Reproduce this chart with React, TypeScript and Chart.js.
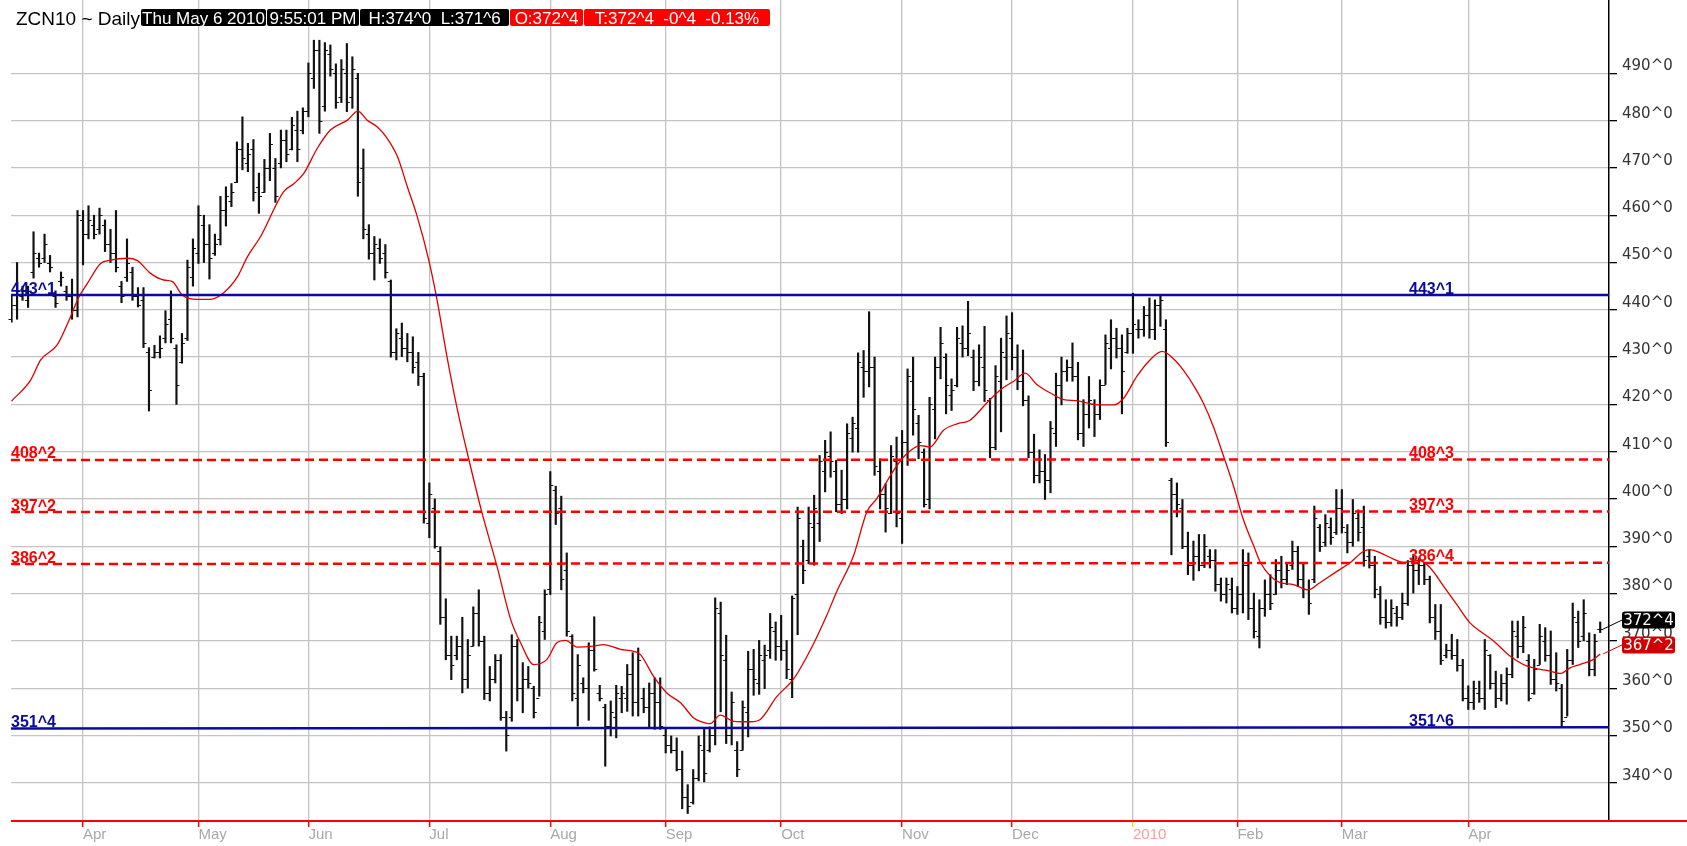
import React, { useEffect, useRef } from 'react';
import { Chart, registerables } from 'chart.js';

Chart.register(...registerables);

// ---------- data ----------
const highs = [
  443, 450, 445, 445, 456.5, 452, 456, 451.5, 444, 448,
  445, 446.5, 461, 461, 462, 460, 461.5, 459, 457, 461,
  446, 455, 449, 444.7, 444.7, 432, 432.5, 434.5, 439.8, 444,
  432.6, 435, 450.5, 455, 462, 460, 458, 456, 464, 466,
  466.7, 475.5, 480.8, 475.2, 476, 468.9, 471.8, 477.3, 472, 478,
  478, 480.7, 482, 482.7, 492.2, 497, 497, 496.5, 496, 492,
  492.9, 496.3, 493.5, 490, 474, 458, 455.5, 455, 453.8, 446.3,
  436, 437.2, 435, 434.3, 431, 426.6, 403.4, 400, 389.9, 378.9,
  371, 371, 375, 370.3, 377.2, 380.8, 371, 364.6, 367.1, 367.1,
  355.1, 371.3, 370.3, 365.4, 364.6, 360.4, 375.2, 380.8, 405.8, 402.7,
  400.6, 388.6, 371.3, 367.1, 362.2, 369.6, 375.1, 360.6, 356.6, 357.3,
  360.6, 360.4, 365, 367.5, 368.5, 360, 361.1, 362.2, 362.2, 351.3,
  349.9, 349.5, 346.7, 339.6, 342.8, 349.9, 351.5, 351.8, 379.1, 378.2,
  371.2, 359.2, 348.7, 357.3, 367.8, 368.2, 370.1, 369.1, 375.8, 374,
  375.4, 370.1, 379.5, 398.3, 391.3, 398.3, 400.8, 409.2, 412.4, 414.2,
  408.2, 406.1, 415.9, 417.3, 430.9, 431.4, 439.6, 430, 408.5, 403.2,
  411.3, 413.1, 414.5, 427.5, 430, 417.7, 410.6, 421.5, 430, 436.3,
  430.7, 425.4, 436.3, 436.6, 441.8, 431.5, 432.6, 436.5, 421.3, 428.2,
  434, 438.7, 439.4, 432.6, 431.5, 421.8, 413.7, 410.4, 409.4, 416.4,
  426.6, 430, 429.4, 433, 428.9, 421, 425.9, 421, 425.2, 434.7,
  437.9, 436.1, 434.7, 436.1, 443.5, 437.9, 440.7, 442.5, 442.1, 443.2,
  437.9, 404.4, 403.4, 399.9, 393, 391.1, 392.5, 392.5, 389.3, 389.3,
  383.3, 383.3, 383.3, 381.5, 389.3, 388.6, 380.1, 378.7, 382.9, 384,
  387.2, 387.9, 386.5, 391.1, 390, 386.5, 382.9, 398.5, 394.6, 396.7,
  396, 402, 402, 394.6, 399.9, 397.7, 398.5, 389.3, 387.9, 381.5,
  378.7, 378.7, 377.3, 380.1, 387, 388, 387.5, 386.5, 383.7, 377.7,
  377.7, 369.3, 371.4, 370.3, 366.1, 360.5, 361.5, 361.5, 370.3, 367.1,
  363.6, 362.9, 364.3, 374.2, 374.2, 375.2, 367.1, 366.1, 373.5, 372.8,
  372.1, 367.5, 360.8, 368.2, 378, 376.3, 378.7, 371.7, 371.4, 374,
];

const lows = [
  437.4, 438, 442, 440.5, 446.7, 449, 450, 448, 440.5, 445,
  442, 438, 438.5, 449.5, 455, 455, 456, 452.3, 450, 448,
  441.5, 446, 442, 440.6, 432, 418.6, 429.8, 429.8, 433, 433,
  420, 428.7, 433.5, 445, 449.8, 450, 446.5, 451.5, 453.7, 457.7,
  461.8, 466.9, 469.6, 469.2, 463, 460.4, 464.8, 467.3, 462.7, 470,
  471.3, 473.8, 471.3, 477.2, 480.8, 486.8, 477.3, 482, 489.4, 482.6,
  483.8, 481.9, 482.6, 464, 455, 450.7, 446.3, 449.8, 446.7, 430,
  429.4, 430.1, 429, 426.6, 424, 394.9, 391.8, 389.6, 373.5, 366,
  361.8, 366, 359, 360, 368.9, 368.9, 357.6, 357.3, 361.1, 353.2,
  346.7, 353, 357.3, 354.8, 360, 353.7, 358.3, 370.3, 379.8, 394.6,
  380.8, 371, 357.3, 352, 359, 353.2, 363.6, 357.3, 343.5, 349.9,
  349.5, 354.8, 355.1, 354.1, 354.1, 354.8, 351.6, 351.3, 351.3, 346.3,
  346.3, 342.5, 334.5, 333.5, 335.5, 340.4, 340.2, 346.5, 348, 355,
  348.3, 348, 341.3, 346.9, 349.7, 358.5, 358.7, 359.9, 366.3, 365.9,
  365.9, 362, 358, 371.3, 382.1, 386.3, 386, 391, 401.5, 404.6,
  397.3, 396.9, 397.9, 409.9, 409.9, 421.5, 423.7, 405, 397.9, 393,
  396.9, 394.1, 390.6, 407.1, 413.5, 408.5, 398.3, 397.9, 412.7, 425.4,
  418, 418.7, 423.7, 430, 430.3, 422.9, 423.9, 420.6, 408.7, 410.4,
  414.2, 425.2, 427.3, 423.1, 419.7, 408.7, 403.4, 403.4, 399.9, 401.3,
  411.1, 419.9, 424.9, 424.9, 412.5, 411.1, 415, 413.2, 416.8, 424.2,
  427.5, 429.8, 418, 430.8, 430.8, 434, 434.4, 434, 433.7, 436.5,
  411.1, 388.2, 396.2, 389.5, 384, 382.8, 384.8, 385.5, 385.4, 380.5,
  378.4, 378, 375.9, 375.6, 375.9, 374.5, 370.6, 368.5, 375.2, 376.6,
  379.8, 381.2, 381.9, 385.1, 381.5, 379.1, 375.6, 382.3, 388.9, 390,
  390.4, 392.5, 392.8, 388.6, 390, 391.1, 385.8, 385.4, 379.1, 373.5,
  372.7, 373.1, 373.1, 374.5, 377.5, 380.1, 381.9, 381.9, 373.8, 370.3,
  365, 366.4, 366.1, 363.6, 357.3, 355.5, 355.5, 357, 355.5, 359.8,
  355.9, 357.3, 356.6, 362.2, 366.4, 367.5, 357.3, 358.7, 365, 365.7,
  360.8, 359.4, 351.75, 354.1, 365, 368.6, 370, 362.6, 362.6, 371.75,
];

const opens = [
  438, 441, 443, 442, 448, 451, 451, 450, 443, 446,
  444, 443, 440, 459, 456, 458, 457, 458, 454, 452,
  445, 447, 448, 443, 442, 431, 430, 431, 434, 438,
  432, 429, 434, 447, 452, 458, 454, 452, 455, 461,
  463, 467, 474, 471, 474, 466, 465, 470, 470, 471,
  476, 474, 478, 478, 482, 489, 495, 483, 494, 490,
  485, 490, 485, 489, 470, 456, 452, 453, 452, 446,
  431, 434, 432, 431, 429, 426, 395, 398, 389, 375,
  367, 367, 369, 362, 369, 376, 370, 359, 362, 366,
  354, 354, 369, 360, 362, 360, 358, 372, 381, 402,
  398, 385, 371, 358, 361, 360, 368, 359, 356, 352,
  354, 358, 358, 363, 357, 358, 356, 359, 357, 350,
  348, 347, 343, 337, 336, 341, 347, 347, 350, 376,
  366, 350, 347, 347, 355, 364, 361, 366, 368, 372,
  369, 368, 362, 380, 390, 387, 394, 395, 406, 409,
  406, 399, 400, 413, 415, 428, 427, 428, 406, 401,
  397, 408, 396, 412, 425, 416, 410, 400, 419, 428,
  430, 422, 424, 433, 432, 430, 425, 428, 421, 411,
  425, 430, 434, 430, 425, 421, 410, 405, 406, 404,
  414, 424, 427, 428, 426, 414, 418, 420, 418, 424,
  432, 434, 432, 431, 435, 436, 436, 439, 436, 441,
  436, 404, 401, 398, 390, 386, 388, 386, 388, 387,
  382, 380, 381, 377, 380, 386, 377, 371, 377, 380,
  380, 385, 383, 386, 389, 383, 381, 383, 394, 391,
  394, 393, 398, 393, 391, 396, 394, 388, 386, 380,
  375, 374, 376, 375, 378, 386, 385, 386, 383, 375,
  372, 367, 368, 367, 365, 358, 357, 359, 358, 367,
  361, 358, 361, 363, 371, 369, 366, 359, 365, 370,
  367, 362, 360, 354, 366, 374, 371, 370, 364, 372.5,
];

const closes = [
  441, 444, 444, 444, 452, 450, 454, 449, 441.5, 447,
  443, 440, 460, 456, 459, 456, 460, 454, 452, 449,
  443, 450, 443, 441, 433, 423, 431, 432, 437, 434,
  424, 433, 449, 453, 460, 454, 451, 454, 461, 464,
  465, 474, 472, 473, 465, 464, 470, 475, 464, 476,
  473, 479, 474, 482, 490, 495, 480, 495, 491, 484,
  491, 484, 491, 467, 457, 452, 454, 451, 448, 431,
  435, 432, 431, 428, 426, 396, 401, 390, 375, 367,
  365, 369, 362, 367, 376, 370, 359, 362, 366, 354,
  350, 369, 360, 362, 361, 355, 374, 380, 403, 397,
  383, 372, 359, 365, 360, 368, 364, 358, 352, 355,
  359, 359, 363, 357, 366, 356, 359, 357, 352, 348,
  347, 343, 337, 335, 341, 348, 342, 350, 377, 367,
  350, 357, 343, 356, 364, 362, 367, 367, 373, 369,
  368, 364, 379, 396, 385, 395, 398, 408, 410, 408,
  399, 400, 414, 416, 429, 427, 428, 407, 401, 398,
  409, 397, 412, 426, 419, 412, 399, 420, 428, 433,
  424, 423, 434, 432, 435, 425, 430, 423, 411, 426,
  431, 435, 430, 425, 421, 410, 405, 406, 404, 415,
  424, 427, 428, 426, 414, 418, 421, 418, 424, 433,
  434, 432, 427, 435, 437, 436, 439, 436, 441, 442,
  412, 401, 399, 390, 386, 388, 386, 390, 387, 382,
  380, 382, 377, 380, 386, 377, 372, 377, 380, 378,
  385, 383, 385, 389, 383, 381, 378, 396, 390, 395,
  392, 398, 394, 391, 397, 393, 387, 386, 381, 375,
  374, 377, 375, 378, 386, 385, 386, 383, 375, 372,
  366, 368, 367, 365, 358, 357, 360, 358, 368, 361,
  358, 361, 363, 372, 369, 373, 358, 364, 371, 367,
  362, 361, 353, 366, 375, 370, 376, 364, 370, 372.5,
];

// moving average (bar index, value)
const maIdx = [
  0, 3.5, 5.3, 8.3, 10.2, 12.3, 13.8, 16.2, 18, 21.1, 22.9, 25.3, 27.7, 29.2, 31.1, 33.8,
  36.2, 38.6, 41.1, 42.9, 45.3, 49.5, 51.4, 53.2, 55.6, 58, 61.1, 63, 64.7, 66.5, 68.3,
  70.2, 72, 73.8, 75.9, 77.4, 79.3, 81.1, 83.2, 85.6, 88.3, 90.8, 92.6, 95, 97.4, 99.2,
  100.8, 102.9, 105.9, 107.7, 110.8, 113.2, 114.4, 116.8, 119.2, 121.7, 124.1, 125.3,
  127.1, 128.9, 131.4, 134.4, 136.2, 139.2, 142.3, 145.9, 148.3, 150.1, 153.2, 155.6,
  157.4, 160.5, 162.9, 165.3, 167.1, 169.5, 172, 174.3, 177.4, 179.9, 182.3, 184.4,
  186.5, 189, 191.4, 193.8, 195.6, 198.1, 200.5, 202.3, 204.7, 207.1, 209.3, 211.4,
  213.2, 215.3, 216.8, 218.6, 220.5, 222.3, 224.1, 226, 227.1, 229, 230.8, 233.2, 235.9,
  238, 241.1, 243.5, 245.9, 247.1, 249, 251.4, 253.2, 256.2, 258.1, 260.5, 262.9, 265.3,
  267.1, 269.6, 272.6, 275.6, 278.1, 279.9, 281.7, 283.5, 285.3, 287.8, 289,
];
const maVal = [
  420.7, 425.2, 429.4, 432.6, 437.1, 442.8, 445.6, 449.8, 450.5, 450.9, 450.4, 447.7, 446.3, 446, 443.1, 442.2,
  442.2, 443.6, 447, 451.2, 455.5, 465, 466.7, 468.9, 474.1, 478, 480.1, 482, 480.1, 478.7, 476.3,
  472.4, 466, 459.7, 450.5, 442.1, 429.5, 418.9, 408.3, 397, 385.8, 374.5, 369.6, 365, 366.1, 369.6,
  370.1, 368.7, 368.9, 369.2, 368.2, 367.8, 367.1, 362.5, 359, 356.9, 353.7, 353,
  352.5, 354.3, 353, 352.9, 353.4, 358.2, 362, 369.4, 375.4, 380.4, 388.1, 397.3,
  400.1, 406.1, 409.6, 411.3, 411, 414.5, 415.9, 416.6, 420.3, 423.1, 424.9, 426.6,
  424.2, 422.4, 421, 420.8, 420.3, 419.9, 419.9, 421.3, 425.9, 429.4, 431.2, 429.6,
  427.2, 423.5, 420.3, 415.4, 409, 402.7, 395.6, 390, 386.8, 383.7, 382.3, 381.9, 380.8,
  382.3, 384.7, 386.5, 388.9, 389.3, 388.6, 387.3, 386.6, 387, 385.4, 381.6, 377.7, 373.8,
  372.1, 370, 366.8, 364.7, 364, 363.6, 363.1, 364.3, 365, 366.1, 367.25,
];

const monthIdx = [13, 34, 54, 76, 98, 119, 140, 162, 182, 204, 223, 242, 265];
const monthLabels = ['Apr', 'May', 'Jun', 'Jul', 'Aug', 'Sep', 'Oct', 'Nov', 'Dec', '2010', 'Feb', 'Mar', 'Apr'];

const yTicks = [340, 350, 360, 370, 380, 390, 400, 410, 420, 430, 440, 450, 460, 470, 480, 490];
const yTickLabels = ['340^0', '350^0', '360^0', '370^0', '380^0', '390^0', '400^0', '410^0',
  '420^0', '430^0', '440^0', '450^0', '460^0', '470^0', '480^0', '490^0'];

const levelLeft = [443.125, 408.25, 397.25, 386.25, 351.5];
const levelRight = [443.125, 408.375, 397.375, 386.5, 351.75];
const levelLeftText = ['443^1', '408^2', '397^2', '386^2', '351^4'];
const levelRightText = ['443^1', '408^3', '397^3', '386^4', '351^6'];
const levelColors = ['#0a0aa0', '#ff0000', '#ff0000', '#ff0000', '#0a0aa0'];
const levelDashed = [false, true, true, true, false];

const lastCloseText = '372^4';
const lastMaText = '367^2';

const headerTitle = 'ZCN10 ~ Daily';
const headerTexts = ['Thu May 6 2010', '9:55:01 PM', 'H:374^0  L:371^6', 'O:372^4', 'T:372^4  -0^4  -0.13%'];
const headerBg = ['#000', '#000', '#000', '#ff0000', '#ff0000'];
const headerLeft = [141, 267, 360, 510, 584];
const headerWidth = [125, 92, 149, 73, 186];

const X_MIN = -0.1;
const X_MAX = 290.6;
const Y_MIN = 331.92;
const Y_MAX = 505.5;

const FONT = '"Liberation Sans", Arial, sans-serif';
const AXIS_FONT = '"DejaVu Sans", Verdana, sans-serif';

const ohlcTicks = {
  id: 'ohlcTicks',
  afterDatasetDraw(chart: any, args: any) {
    if (args.index !== 0) return;
    const { ctx } = chart;
    const ys = chart.scales.y;
    const meta = chart.getDatasetMeta(0);
    ctx.save();
    ctx.strokeStyle = '#111';
    ctx.lineWidth = 1.2;
    ctx.beginPath();
    meta.data.forEach((el: any, i: number) => {
      const x = el.x;
      const yo = Math.round(ys.getPixelForValue(opens[i])) + 0.5;
      const yc = Math.round(ys.getPixelForValue(closes[i])) + 0.5;
      ctx.moveTo(x - 3, yo);
      ctx.lineTo(x, yo);
      ctx.moveTo(x, yc);
      ctx.lineTo(x + 3, yc);
    });
    ctx.stroke();
    ctx.restore();
  },
};

const decor = {
  id: 'decor',
  beforeDraw(chart: any) {
    const { ctx } = chart;
    ctx.save();
    ctx.fillStyle = '#fff';
    ctx.fillRect(0, 0, chart.width, chart.height);
    ctx.restore();
  },
  afterDraw(chart: any) {
    const { ctx, chartArea: a } = chart;
    const xs = chart.scales.x;
    const ys = chart.scales.y;
    ctx.save();
    // bottom red rule
    ctx.strokeStyle = '#ff0000';
    ctx.lineWidth = 2;
    ctx.beginPath();
    ctx.moveTo(a.left, a.bottom);
    ctx.lineTo(chart.width, a.bottom);
    ctx.stroke();

    // level labels
    ctx.font = `bold 16px ${FONT}`;
    ctx.textAlign = 'left';
    ctx.textBaseline = 'alphabetic';
    levelLeft.forEach((v, k) => {
      ctx.fillStyle = levelColors[k];
      ctx.fillText(levelLeftText[k], a.left, ys.getPixelForValue(v) - 1.5);
      ctx.fillText(levelRightText[k], a.right - 200, ys.getPixelForValue(levelRight[k]) - 1.5);
    });

    // last value boxes
    const last = closes.length - 1;
    const xb = xs.getPixelForValue(last);
    const bx = a.right + 13;
    const bw = 53;
    const bh = 17;
    const drawBox = (val: number, txt: string, bg: string, line: string) => {
      const yv = ys.getPixelForValue(val);
      const cy = yv - 9;
      ctx.strokeStyle = line;
      ctx.lineWidth = 1;
      ctx.beginPath();
      ctx.moveTo(xb + 3, yv);
      ctx.lineTo(bx, cy);
      ctx.stroke();
      ctx.fillStyle = bg;
      ctx.beginPath();
      if (ctx.roundRect) ctx.roundRect(bx, cy - bh / 2, bw, bh, 3);
      else ctx.rect(bx, cy - bh / 2, bw, bh);
      ctx.fill();
      ctx.fillStyle = '#fff';
      ctx.font = `15px ${AXIS_FONT}`;
      ctx.textAlign = 'center';
      ctx.textBaseline = 'middle';
      ctx.fillText(txt, bx + bw / 2, cy + 1);
    };
    drawBox(closes[last], lastCloseText, '#000', '#000');
    drawBox(maVal[maVal.length - 1], lastMaText, '#d00000', '#e00000');
    ctx.restore();
  },
};

const isYear = (v: number) => monthLabels[monthIdx.indexOf(v)] === '2010';

export default function App() {
  const ref = useRef<HTMLCanvasElement>(null);

  useEffect(() => {
    document.body.style.margin = '0';
    const canvas = ref.current!;
    const levelSets = levelLeft.map((v, k) => ({
      type: 'line' as const,
      data: [{ x: X_MIN, y: v }, { x: X_MAX, y: levelRight[k] }],
      borderColor: levelColors[k],
      borderWidth: 2.5,
      borderDash: levelDashed[k] ? [9, 5] : [],
      pointRadius: 0,
      order: 1,
    }));
    const chart = new Chart(canvas, {
      type: 'bar',
      data: {
        datasets: [
          {
            type: 'bar',
            data: highs.map((h, i) => ({ x: i, y: [lows[i], h] })) as any,
            backgroundColor: '#111',
            borderWidth: 0,
            barThickness: 1.5,
            grouped: false,
            order: 5,
          } as any,
          {
            type: 'line',
            data: maIdx.map((x, k) => ({ x, y: maVal[k] })),
            borderColor: '#e00000',
            borderWidth: 1.3,
            pointRadius: 0,
            cubicInterpolationMode: 'monotone',
            order: 2,
          } as any,
          ...levelSets,
        ],
      },
      options: {
        responsive: false,
        animation: false,
        devicePixelRatio: 1,
        events: [],
        layout: { padding: { left: 11, top: 0, right: 0, bottom: 0 } },
        plugins: { legend: { display: false }, tooltip: { enabled: false } },
        scales: {
          x: {
            type: 'linear',
            min: X_MIN,
            max: X_MAX,
            offset: false,
            afterBuildTicks: (s: any) => {
              s.ticks = monthIdx.map((v) => ({ value: v }));
            },
            afterFit: (s: any) => {
              s.height = 25;
              s.paddingLeft = 0;
              s.paddingRight = 0;
            },
            grid: {
              offset: false,
              color: '#c4c4c4',
              lineWidth: 1.3,
              tickLength: 6,
              tickWidth: 1.5,
              tickColor: (c: any) => (c.tick && isYear(c.tick.value) ? '#e8e000' : '#ff0000'),
            },
            border: { display: false },
            ticks: {
              autoSkip: false,
              maxRotation: 0,
              minRotation: 0,
              align: 'start',
              padding: -1,
              font: { family: FONT, size: 15 },
              color: (c: any) => (c.tick && isYear(c.tick.value) ? '#ff9c9c' : '#a8a8a8'),
              callback: (v: any) => {
                const k = monthIdx.indexOf(v);
                return k >= 0 ? monthLabels[k] : '';
              },
            },
          },
          y: {
            type: 'linear',
            position: 'right',
            min: Y_MIN,
            max: Y_MAX,
            afterBuildTicks: (s: any) => {
              s.ticks = yTicks.map((v) => ({ value: v }));
            },
            afterFit: (s: any) => {
              s.width = 78;
              s.paddingTop = 0;
              s.paddingBottom = 0;
            },
            grid: {
              color: '#c4c4c4',
              lineWidth: 1.3,
              tickLength: 8,
              tickColor: '#000',
            },
            border: { display: true, color: '#000', width: 1.5 },
            ticks: {
              padding: 5,
              labelOffset: -7,
              font: { family: AXIS_FONT, size: 15 },
              color: '#333',
              callback: (v: any) => {
                const k = yTicks.indexOf(v);
                return k >= 0 ? yTickLabels[k] : '';
              },
            },
          },
        },
      } as any,
      plugins: [ohlcTicks, decor],
    });
    return () => chart.destroy();
  }, []);

  return (
    <div style={{ position: 'relative', width: 1687, height: 846, background: '#fff', overflow: 'hidden' }}>
      <canvas ref={ref} width={1687} height={846} style={{ display: 'block', width: 1687, height: 846 }} />
      <div
        style={{
          position: 'absolute', left: 16, top: 8, height: 19, lineHeight: '19px',
          font: `19px ${FONT}`, color: '#000', whiteSpace: 'pre',
        }}
      >
        {headerTitle}
      </div>
      {headerTexts.map((t, k) => (
        <div
          key={k}
          style={{
            position: 'absolute', left: headerLeft[k], top: 9, width: headerWidth[k], height: 17,
            lineHeight: '18px', background: headerBg[k], color: '#fff', borderRadius: 2,
            font: `17px ${FONT}`, textAlign: 'center', whiteSpace: 'pre', overflow: 'hidden',
          }}
        >
          {t}
        </div>
      ))}
    </div>
  );
}
